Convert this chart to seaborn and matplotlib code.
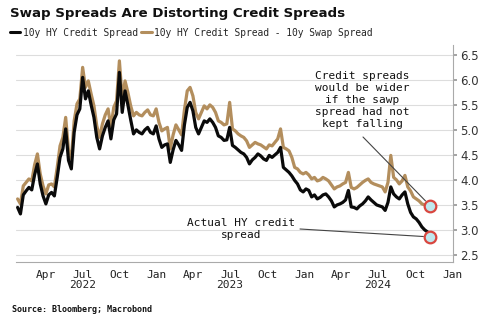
import numpy as np
import pandas as pd
import matplotlib
matplotlib.use("Agg")
import matplotlib.pyplot as plt
import matplotlib.dates as mdates
from matplotlib.lines import Line2D
import seaborn as sns

# ---- data (weekly readings from the reference) ----
start_date = "2022-01-21"
hy_credit = [
    3.45, 3.32, 3.70, 3.78, 3.85, 3.80, 4.10, 4.32, 3.92, 3.68,
    3.52, 3.70, 3.75, 3.68, 4.05, 4.45, 4.62, 5.02, 4.39, 4.22,
    4.95, 5.30, 5.42, 6.05, 5.62, 5.78, 5.50, 5.25, 4.85, 4.62,
    4.88, 5.05, 5.18, 4.82, 5.20, 5.32, 6.15, 5.35, 5.78, 5.50,
    5.20, 4.92, 5.00, 4.95, 4.92, 5.00, 5.05, 4.95, 4.92, 5.08,
    4.82, 4.65, 4.70, 4.72, 4.35, 4.60, 4.79, 4.70, 4.59, 5.10,
    5.45, 5.55, 5.38, 5.05, 4.92, 5.05, 5.18, 5.15, 5.22, 5.15,
    5.05, 4.88, 4.85, 4.79, 4.80, 5.05, 4.69, 4.65, 4.60, 4.55,
    4.52, 4.45, 4.32, 4.40, 4.45, 4.52, 4.48, 4.42, 4.39, 4.49,
    4.45, 4.50, 4.55, 4.65, 4.25, 4.20, 4.15, 4.08, 3.99, 3.92,
    3.80, 3.76, 3.82, 3.79, 3.66, 3.70, 3.62, 3.65, 3.70, 3.72,
    3.66, 3.58, 3.46, 3.50, 3.52, 3.55, 3.60, 3.79, 3.46, 3.45,
    3.42, 3.48, 3.52, 3.58, 3.66, 3.60, 3.55, 3.50, 3.48, 3.46,
    3.39, 3.55, 3.86, 3.72, 3.66, 3.62, 3.70, 3.76, 3.52, 3.35,
    3.26, 3.22, 3.15, 3.06, 3.00, 2.96, 2.86,
]
hy_minus_swap = [
    3.62, 3.52, 3.88, 3.95, 4.02, 3.98, 4.30, 4.52, 4.12, 3.88,
    3.72, 3.90, 3.92, 3.86, 4.25, 4.68, 4.85, 5.25, 4.60, 4.42,
    5.18, 5.52, 5.62, 6.25, 5.85, 5.98, 5.72, 5.48, 5.08, 4.85,
    5.12, 5.30, 5.42, 5.05, 5.45, 5.58, 6.38, 5.62, 5.98, 5.75,
    5.48, 5.28, 5.35, 5.30, 5.28, 5.35, 5.40, 5.30, 5.28, 5.42,
    5.15, 4.98, 5.02, 5.05, 4.62, 4.90, 5.10, 5.00, 4.90, 5.40,
    5.78, 5.85, 5.68, 5.35, 5.22, 5.35, 5.48, 5.42, 5.50, 5.45,
    5.35, 5.18, 5.15, 5.10, 5.12, 5.55, 5.02, 4.98, 4.92, 4.88,
    4.85, 4.78, 4.65, 4.70, 4.75, 4.72, 4.70, 4.66, 4.62, 4.70,
    4.68, 4.75, 4.82, 5.02, 4.65, 4.62, 4.58, 4.45, 4.25, 4.22,
    4.15, 4.12, 4.15, 4.10, 4.02, 4.05, 3.98, 4.00, 4.05, 4.02,
    3.98, 3.90, 3.82, 3.86, 3.88, 3.92, 3.95, 4.15, 3.85, 3.82,
    3.85, 3.90, 3.95, 3.99, 4.02, 3.95, 3.92, 3.90, 3.88, 3.86,
    3.76, 3.95, 4.49, 4.05, 4.00, 3.92, 3.98, 4.09, 3.86, 3.78,
    3.66, 3.62, 3.58, 3.52, 3.50, 3.45, 3.48,
]
series_names = ["10y HY Credit Spread", "10y HY Credit Spread - 10y Swap Spread"]
series_colors = ["#0a0a0a", "#b38e5d"]
tick_dates = ["2022-04-01", "2022-07-01", "2022-10-01", "2023-01-01", "2023-04-01",
              "2023-07-01", "2023-10-01", "2024-01-01", "2024-04-01", "2024-07-01",
              "2024-10-01", "2025-01-01"]
tick_labels = ["Apr", "Jul\n2022", "Oct", "Jan", "Apr", "Jul\n2023", "Oct", "Jan",
               "Apr", "Jul\n2024", "Oct", "Jan"]
y_ticks = [2.5, 3.0, 3.5, 4.0, 4.5, 5.0, 5.5, 6.0, 6.5]

dates = pd.date_range(start_date, periods=len(hy_credit), freq="7D")
df = pd.concat([
    pd.DataFrame({"date": dates, "value": hy_credit, "series": series_names[0]}),
    pd.DataFrame({"date": dates, "value": hy_minus_swap, "series": series_names[1]}),
])

sns.set_theme(style="white")
mono = ["DejaVu Sans Mono"]
plt.rcParams["font.family"] = ["DejaVu Sans"]

fig = plt.figure(figsize=(5, 3.25), dpi=100)
ax = fig.add_axes([0.032, 0.194, 0.874, 0.668])

sns.lineplot(data=df, x="date", y="value", hue="series", hue_order=series_names[::-1],
             palette={series_names[0]: series_colors[0], series_names[1]: series_colors[1]},
             linewidth=2.3, legend=False, ax=ax)

ax.set_xlim(pd.Timestamp("2022-01-17"), pd.Timestamp("2025-01-03"))
ax.set_ylim(2.36, 6.7)
ax.yaxis.tick_right()
ax.set_yticks(y_ticks)
ax.set_yticklabels([f"{v:.1f}" for v in y_ticks], fontsize=8.5, color="#333333")
ax.set_xticks(pd.to_datetime(tick_dates))
ax.set_xticklabels(tick_labels, fontsize=8, family=mono, color="#222222",
                   linespacing=1.0)
ax.tick_params(axis="x", length=3, color="#999999", pad=3)
ax.tick_params(axis="y", length=3, color="#999999", pad=2, right=True, left=False)
ax.set_xlabel("")
ax.set_ylabel("")
ax.grid(axis="y", color="#dddddd", linewidth=0.8)
for s in ["top", "left"]:
    ax.spines[s].set_visible(False)
for s in ["bottom", "right"]:
    ax.spines[s].set_color("#aaaaaa")
    ax.spines[s].set_linewidth(0.8)

# end markers
last_date = dates[-1]
for vals in (hy_minus_swap, hy_credit):
    ax.scatter([last_date], [vals[-1]], s=70, facecolor="#bfe8ee",
               edgecolor="#d9463f", linewidth=1.6, zorder=5)

# annotations
fig.text(362, 225, "Credit spreads\nwould be wider\nif the sawp\nspread had not\nkept falling",
         transform=None, ha="center", va="center", fontsize=8, family=mono,
         color="#111111", linespacing=1.25)
ax.annotate("", xy=(last_date, hy_minus_swap[-1]), xytext=(363, 188),
            textcoords="figure pixels",
            arrowprops=dict(arrowstyle="-", color="#444444", lw=0.8, shrinkA=0, shrinkB=5))
fig.text(241, 96, "Actual HY credit\nspread", transform=None, ha="center", va="center",
         fontsize=8, family=mono, color="#111111", linespacing=1.3)
ax.annotate("", xy=(last_date, hy_credit[-1]), xytext=(300, 96),
            textcoords="figure pixels",
            arrowprops=dict(arrowstyle="-", color="#444444", lw=0.8, shrinkA=0, shrinkB=5))

# title, legend, source
fig.text(10, 312, "Swap Spreads Are Distorting Credit Spreads", transform=None,
         ha="left", va="center", fontsize=9.6, fontweight="bold", color="#111111")
handles = [Line2D([], [], color=c, lw=2.2) for c in series_colors]
fig.legend(handles, series_names, loc="center left", bbox_to_anchor=(0.01, 0.9),
           ncol=2, frameon=False, prop={"family": mono, "size": 6.9},
           handlelength=1.1, handletextpad=0.3, columnspacing=0.3, borderpad=0)
fig.text(12, 15, "Source: Bloomberg; Macrobond", transform=None, ha="left",
         va="center", fontsize=6, fontweight="bold", family=mono, color="#111111")

fig.savefig("out.png", dpi=100)
